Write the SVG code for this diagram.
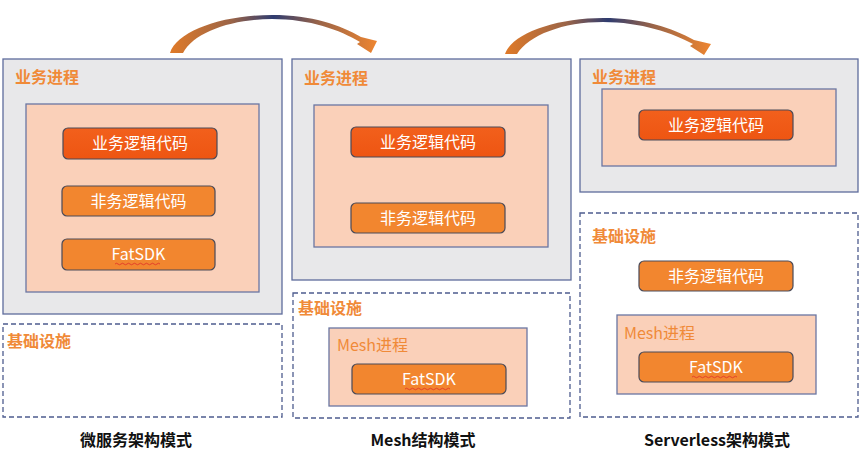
<svg xmlns="http://www.w3.org/2000/svg" width="866" height="458" viewBox="0 0 866 458">
<defs>
<linearGradient id="arrowGrad" x1="0" y1="0" x2="1" y2="0">
<stop offset="0" stop-color="#E07A28"/>
<stop offset="0.3" stop-color="#9A6448"/>
<stop offset="0.5" stop-color="#2F3C70"/>
<stop offset="0.72" stop-color="#9A6448"/>
<stop offset="1" stop-color="#EE8530"/>
</linearGradient>
<linearGradient id="darkBtn" x1="0" y1="0" x2="0" y2="1">
<stop offset="0" stop-color="#F2601C"/>
<stop offset="1" stop-color="#EE5512"/>
</linearGradient>
<style>
text{font-family:"Noto Sans CJK SC","Liberation Sans",sans-serif;}
.panel{fill:#E8E8EA;stroke:#5E6C9C;stroke-width:1.3;}
.peach{fill:#FAD0B9;stroke:#6A76A2;stroke-width:1.3;}
.infra{fill:none;stroke:#4E5C8E;stroke-width:1.3;stroke-dasharray:5 3;}
.btnDark{fill:url(#darkBtn);stroke:#4A4A58;stroke-width:1.2;}
.btnMid{fill:#F2862F;stroke:#4A4A58;stroke-width:1.2;}
.label{fill:#F08A38;font-size:16px;font-weight:bold;}
.mlabel{fill:#F08A38;font-size:16px;}
.btxt{fill:#FFFFFF;font-size:16px;text-anchor:middle;}
.title{fill:#111111;font-size:16px;font-weight:bold;text-anchor:middle;}
.squig{fill:none;stroke:#E0302A;stroke-width:0.8;}
.arrow{fill:url(#arrowGrad);}
</style>
</defs>
<rect width="866" height="458" fill="#FFFFFF"/>

<g id="connectors">
<path class="arrow" d="M170,53 C177,31 222,15 272,15 C312,15 340,25 361,37 L377,41 L371,53 L357,44 L360,42 C340,30 310,19 272,19 C232,19 194,32 183,53 Z"/>
<path class="arrow" d="M505,54 C512,33 557,18 603,18 C643,18 672,28 694,40 L711,44 L704,55 L690,46 L693,44 C673,33 641,22 603,22 C563,22 529,35 517,54 Z"/>
</g>

<g id="panel-microservice">
<g id="ms-process">
<rect class="panel" x="3" y="59" width="279" height="255"/>
<text class="label" x="15" y="83">业务进程</text>
<rect class="peach" x="26" y="104" width="233" height="188"/>
</g>
<g id="ms-biz">
<rect class="btnDark" x="63" y="128" width="154" height="31" rx="5"/>
<text class="btxt" x="140" y="149">业务逻辑代码</text>
</g>
<g id="ms-nonbiz">
<rect class="btnMid" x="62" y="186" width="153" height="30" rx="5"/>
<text class="btxt" x="138.5" y="207">非务逻辑代码</text>
</g>
<g id="ms-fatsdk">
<rect class="btnMid" x="62" y="239" width="153" height="31" rx="5"/>
<text class="btxt" x="138.5" y="260">FatSDK</text>
<path class="squig" d="M115,264 q1.5,-1.5 3,0 t3,0 t3,0 t3,0 t3,0 t3,0 t3,0 t3,0 t3,0 t3,0 t3,0 t3,0 t3,0 t3,0 t3,0"/>
</g>
<g id="ms-infra">
<rect class="infra" x="3" y="324" width="279" height="93"/>
<text class="label" x="7" y="347">基础设施</text>
</g>
<text class="title" x="136" y="446">微服务架构模式</text>
</g>

<g id="panel-mesh">
<g id="mesh-process">
<rect class="panel" x="292" y="59" width="279" height="221"/>
<text class="label" x="304" y="84">业务进程</text>
<rect class="peach" x="314" y="105" width="234" height="142"/>
</g>
<g id="mesh-biz">
<rect class="btnDark" x="351" y="127" width="154" height="30" rx="5"/>
<text class="btxt" x="428" y="148">业务逻辑代码</text>
</g>
<g id="mesh-nonbiz">
<rect class="btnMid" x="351" y="203" width="154" height="30" rx="5"/>
<text class="btxt" x="428" y="224">非务逻辑代码</text>
</g>
<g id="mesh-infra">
<rect class="infra" x="293" y="293" width="277" height="125"/>
<text class="label" x="298" y="314">基础设施</text>
</g>
<g id="mesh-meshproc">
<rect class="peach" x="329" y="328" width="198" height="78"/>
<text class="mlabel" x="337" y="351">Mesh进程</text>
</g>
<g id="mesh-fatsdk">
<rect class="btnMid" x="352" y="364" width="154" height="30" rx="5"/>
<text class="btxt" x="429" y="385">FatSDK</text>
<path class="squig" d="M405,389 q1.5,-1.5 3,0 t3,0 t3,0 t3,0 t3,0 t3,0 t3,0 t3,0 t3,0 t3,0 t3,0 t3,0 t3,0 t3,0 t3,0"/>
</g>
<text class="title" x="423" y="446">Mesh结构模式</text>
</g>

<g id="panel-serverless">
<g id="sl-process">
<rect class="panel" x="580" y="59" width="278" height="133"/>
<text class="label" x="592" y="83">业务进程</text>
<rect class="peach" x="602" y="89" width="234" height="77"/>
</g>
<g id="sl-biz">
<rect class="btnDark" x="639" y="110" width="154" height="30" rx="5"/>
<text class="btxt" x="716" y="131">业务逻辑代码</text>
</g>
<g id="sl-infra">
<rect class="infra" x="580" y="213" width="278" height="204"/>
<text class="label" x="592" y="242">基础设施</text>
</g>
<g id="sl-nonbiz">
<rect class="btnMid" x="639" y="261" width="154" height="30" rx="5"/>
<text class="btxt" x="716" y="282">非务逻辑代码</text>
</g>
<g id="sl-meshproc">
<rect class="peach" x="617" y="315" width="199" height="79"/>
<text class="mlabel" x="624" y="339">Mesh进程</text>
</g>
<g id="sl-fatsdk">
<rect class="btnMid" x="639" y="352" width="154" height="30" rx="5"/>
<text class="btxt" x="716" y="373">FatSDK</text>
<path class="squig" d="M692,377 q1.5,-1.5 3,0 t3,0 t3,0 t3,0 t3,0 t3,0 t3,0 t3,0 t3,0 t3,0 t3,0 t3,0 t3,0 t3,0 t3,0"/>
</g>
<text class="title" x="717" y="446">Serverless架构模式</text>
</g>
</svg>
